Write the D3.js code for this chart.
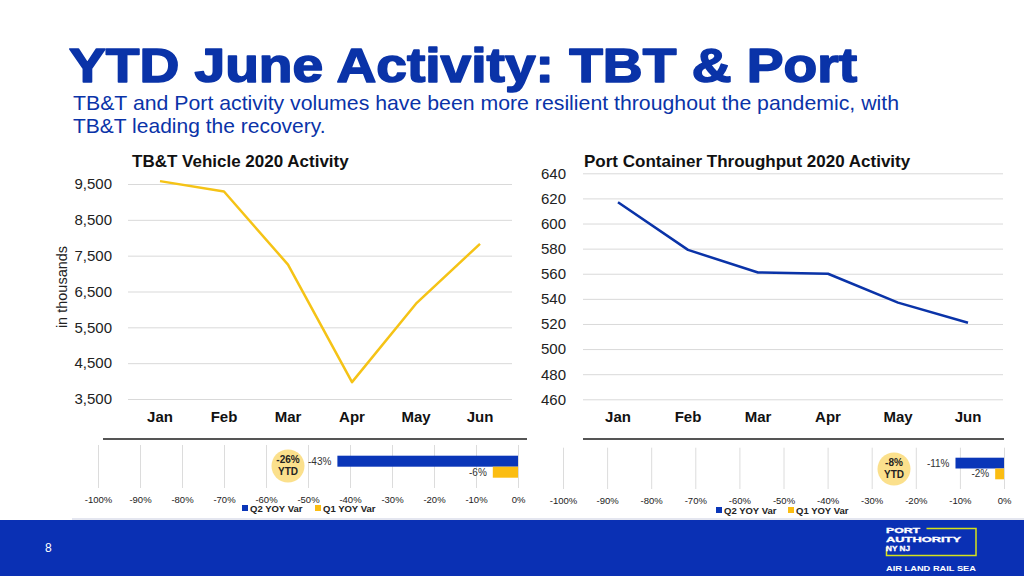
<!DOCTYPE html>
<html><head><meta charset="utf-8">
<script src="https://cdn.jsdelivr.net/npm/d3@7"></script>
<style>
html,body{margin:0;padding:0;background:#fff;}
svg{display:block;font-family:"Liberation Sans",Arial,Helvetica,sans-serif;}
</style></head>
<body>
<svg id="c" width="1024" height="576"></svg>
<script>
// ---- data ----
const months = ["Jan","Feb","Mar","Apr","May","Jun"];
const tbtValues = [9580, 9290, 7250, 3970, 6160, 7830];
const tbtTicks = [3500, 4500, 5500, 6500, 7500, 8500, 9500];
const portValues = [617, 579, 561, 560, 537, 521];
const portTicks = [460, 480, 500, 520, 540, 560, 580, 600, 620, 640];
const pctTicks = [-100, -90, -80, -70, -60, -50, -40, -30, -20, -10, 0];
const seriesNames = ["Q2 YOY Var", "Q1 YOY Var"];
const tbtVar = [-43, -6];
const portVar = [-11, -2];
const tbtYTD = "-26%";
const portYTD = "-8%";

const BLUE = "#0a33a8", YEL = "#f5c316", BARBLUE = "#0a36b8", BARYEL = "#fbbd12";
const svg = d3.select("#c");

// ---- header ----
svg.append("text").attr("x", 69).attr("y", 82).attr("font-size", 48).attr("font-weight", 900)
  .attr("fill", BLUE).attr("stroke", BLUE).attr("stroke-width", 1.6).attr("stroke-linejoin", "round")
  .attr("textLength", 788).attr("lengthAdjust","spacingAndGlyphs")
  .text("YTD June Activity: TBT & Port");
svg.append("text").attr("x", 73).attr("y", 110).attr("font-size", 21).attr("fill", BLUE)
  .attr("textLength", 826).attr("lengthAdjust","spacingAndGlyphs")
  .text("TB&T and Port activity volumes have been more resilient throughout the pandemic, with");
svg.append("text").attr("x", 73).attr("y", 133).attr("font-size", 21).attr("fill", BLUE)
  .text("TB&T leading the recovery.");

// ---- line chart helper ----
function lineChart(o) {
  const g = svg.append("g");
  const x = d3.scaleBand().domain(months).range([o.x0, o.x1]);
  const y = d3.scaleLinear().domain(o.domain).range([o.yBottom, o.yTop]);
  g.append("text").attr("x", o.titleX).attr("y", 167).attr("font-size", 17).attr("font-weight", "bold")
    .attr("fill", "#111").text(o.title);
  const ya = d3.axisLeft(y).tickValues(o.ticks).tickSize(-(o.x1 - o.x0)).tickPadding(o.pad)
    .tickFormat(o.fmt);
  const yg = g.append("g").attr("transform", `translate(${o.x0},0)`).call(ya);
  yg.select(".domain").remove();
  yg.selectAll(".tick line").attr("stroke", "#d9d9d9").attr("stroke-width", 1);
  yg.selectAll(".tick text").attr("font-size", 15).attr("fill", "#222")
    .attr("font-family", '"Liberation Sans",Arial,sans-serif');
  const xa = d3.axisBottom(x).tickSize(0).tickPadding(12);
  const xg = g.append("g").attr("transform", `translate(0,${o.yBottom})`).call(xa);
  xg.select(".domain").remove();
  xg.selectAll(".tick text").attr("font-size", 15).attr("font-weight", "bold").attr("fill", "#111")
    .attr("font-family", '"Liberation Sans",Arial,sans-serif');
  const line = d3.line().x((d, i) => x(months[i]) + x.bandwidth() / 2).y(d => y(d));
  g.append("path").datum(o.values).attr("d", line).attr("fill", "none")
    .attr("stroke", o.color).attr("stroke-width", 2.5).attr("stroke-linejoin", "round");
  // separator
  g.append("line").attr("x1", o.sep0).attr("x2", o.sep1).attr("y1", 439).attr("y2", 439)
    .attr("stroke", "#555").attr("stroke-width", 2);
}

lineChart({x0: 128, x1: 512, yTop: 184, yBottom: 399, domain: [3500, 9500], ticks: tbtTicks,
  values: tbtValues, color: YEL, title: "TB&T Vehicle 2020 Activity", titleX: 132, pad: 16,
  fmt: d3.format(","), sep0: 103, sep1: 527});
lineChart({x0: 583, x1: 1003, yTop: 173.3, yBottom: 399.3, domain: [460, 640], ticks: portTicks,
  values: portValues, color: BLUE, title: "Port Container Throughput 2020 Activity", titleX: 584, pad: 17,
  fmt: d3.format("d"), sep0: 583, sep1: 1004});

svg.append("text").attr("transform", "translate(67,287) rotate(-90)").attr("text-anchor", "middle")
  .attr("font-size", 14.5).attr("fill", "#222").text("in thousands");

// ---- bar chart helper ----
function barChart(o) {
  const g = svg.append("g");
  const x = d3.scaleLinear().domain([-100, 0]).range([o.x0, o.x1]);
  const y = d3.scaleBand().domain(seriesNames).range([o.barTop, o.barBottom]);
  const xa = d3.axisBottom(x).tickValues(pctTicks).tickSize(-(o.gridBottom - o.gridTop))
    .tickPadding(8).tickFormat(d => d + "%");
  const xg = g.append("g").attr("transform", `translate(0,${o.gridBottom})`).call(xa);
  xg.select(".domain").remove();
  xg.selectAll(".tick line").attr("stroke", "#dcdcdc");
  xg.selectAll(".tick text").attr("font-size", 9.5).attr("fill", "#222")
    .attr("font-family", '"Liberation Sans",Arial,sans-serif');
  const colors = [BARBLUE, BARYEL];
  g.selectAll("rect.bar").data(o.values).join("rect").attr("class", "bar")
    .attr("x", d => x(d)).attr("width", d => x(0) - x(d))
    .attr("y", (d, i) => y(seriesNames[i])).attr("height", y.bandwidth())
    .attr("fill", (d, i) => colors[i]);
  g.selectAll("text.lab").data(o.values).join("text").attr("class", "lab")
    .attr("x", d => x(d) - 6).attr("y", (d, i) => y(seriesNames[i]) + y.bandwidth() / 2 + 3.5)
    .attr("text-anchor", "end").attr("font-size", 10).attr("fill", "#333")
    .text(d => d + "%");
  // YTD bubble
  g.append("circle").attr("cx", o.bx).attr("cy", o.by).attr("r", 16.5).attr("fill", "#fbe08c");
  g.append("text").attr("x", o.bx).attr("y", o.by - 3).attr("text-anchor", "middle")
    .attr("font-size", 10).attr("font-weight", "bold").attr("fill", "#222").text(o.ytd);
  g.append("text").attr("x", o.bx).attr("y", o.by + 8.5).attr("text-anchor", "middle")
    .attr("font-size", 10).attr("font-weight", "bold").attr("fill", "#222").text("YTD");
  // legend
  const lg = g.append("g").attr("transform", `translate(${o.lx},${o.ly})`);
  const offs = [0, o.lgap];
  seriesNames.forEach((n, i) => {
    lg.append("rect").attr("x", offs[i]).attr("y", -7).attr("width", 6).attr("height", 6).attr("fill", colors[i]);
    lg.append("text").attr("x", offs[i] + 8).attr("y", 0).attr("font-size", 9.5).attr("font-weight", "bold")
      .attr("fill", "#222").text(n);
  });
}

barChart({x0: 98, x1: 518, gridTop: 445, gridBottom: 488, barTop: 455.7, barBottom: 477.7,
  values: tbtVar, ytd: tbtYTD, bx: 288, by: 466, lx: 242, ly: 512, lgap: 73});
barChart({x0: 563, x1: 1004, gridTop: 447.7, gridBottom: 489, barTop: 457.7, barBottom: 479.3,
  values: portVar, ytd: portYTD, bx: 894, by: 469, lx: 716, ly: 514, lgap: 72});

// ---- footer ----
svg.append("rect").attr("x", 0).attr("y", 520).attr("width", 1024).attr("height", 56).attr("fill", "#0a30b4");
svg.append("line").attr("x1", 72).attr("x2", 1024).attr("y1", 519).attr("y2", 519).attr("stroke", "#c9cde0").attr("stroke-width", 1);
svg.append("text").attr("x", 45).attr("y", 552).attr("font-size", 12).attr("fill", "#fff").text("8");
const logo = svg.append("g");
logo.append("path").attr("d", "M926.5,528.5 H976 V555.5 H886.5 V547").attr("fill", "none")
  .attr("stroke", "#d6e21a").attr("stroke-width", 1.5);
const logoLines = [["PORT", 34], ["AUTHORITY", 75], ["NY NJ", 24]];
logoLines.forEach(([t, w], i) => {
  logo.append("text").attr("x", 886).attr("y", 532.5 + i * 9.3).attr("font-size", 8).attr("font-weight", 900)
    .attr("fill", "#fff").attr("stroke", "#fff").attr("stroke-width", 0.35)
    .attr("textLength", w).attr("lengthAdjust","spacingAndGlyphs").text(t);
});
logo.append("text").attr("x", 886).attr("y", 570.5).attr("font-size", 8).attr("font-weight", 900)
  .attr("fill", "#fff").attr("textLength", 90).attr("lengthAdjust","spacingAndGlyphs").text("AIR LAND RAIL SEA");
</script>
</body></html>
